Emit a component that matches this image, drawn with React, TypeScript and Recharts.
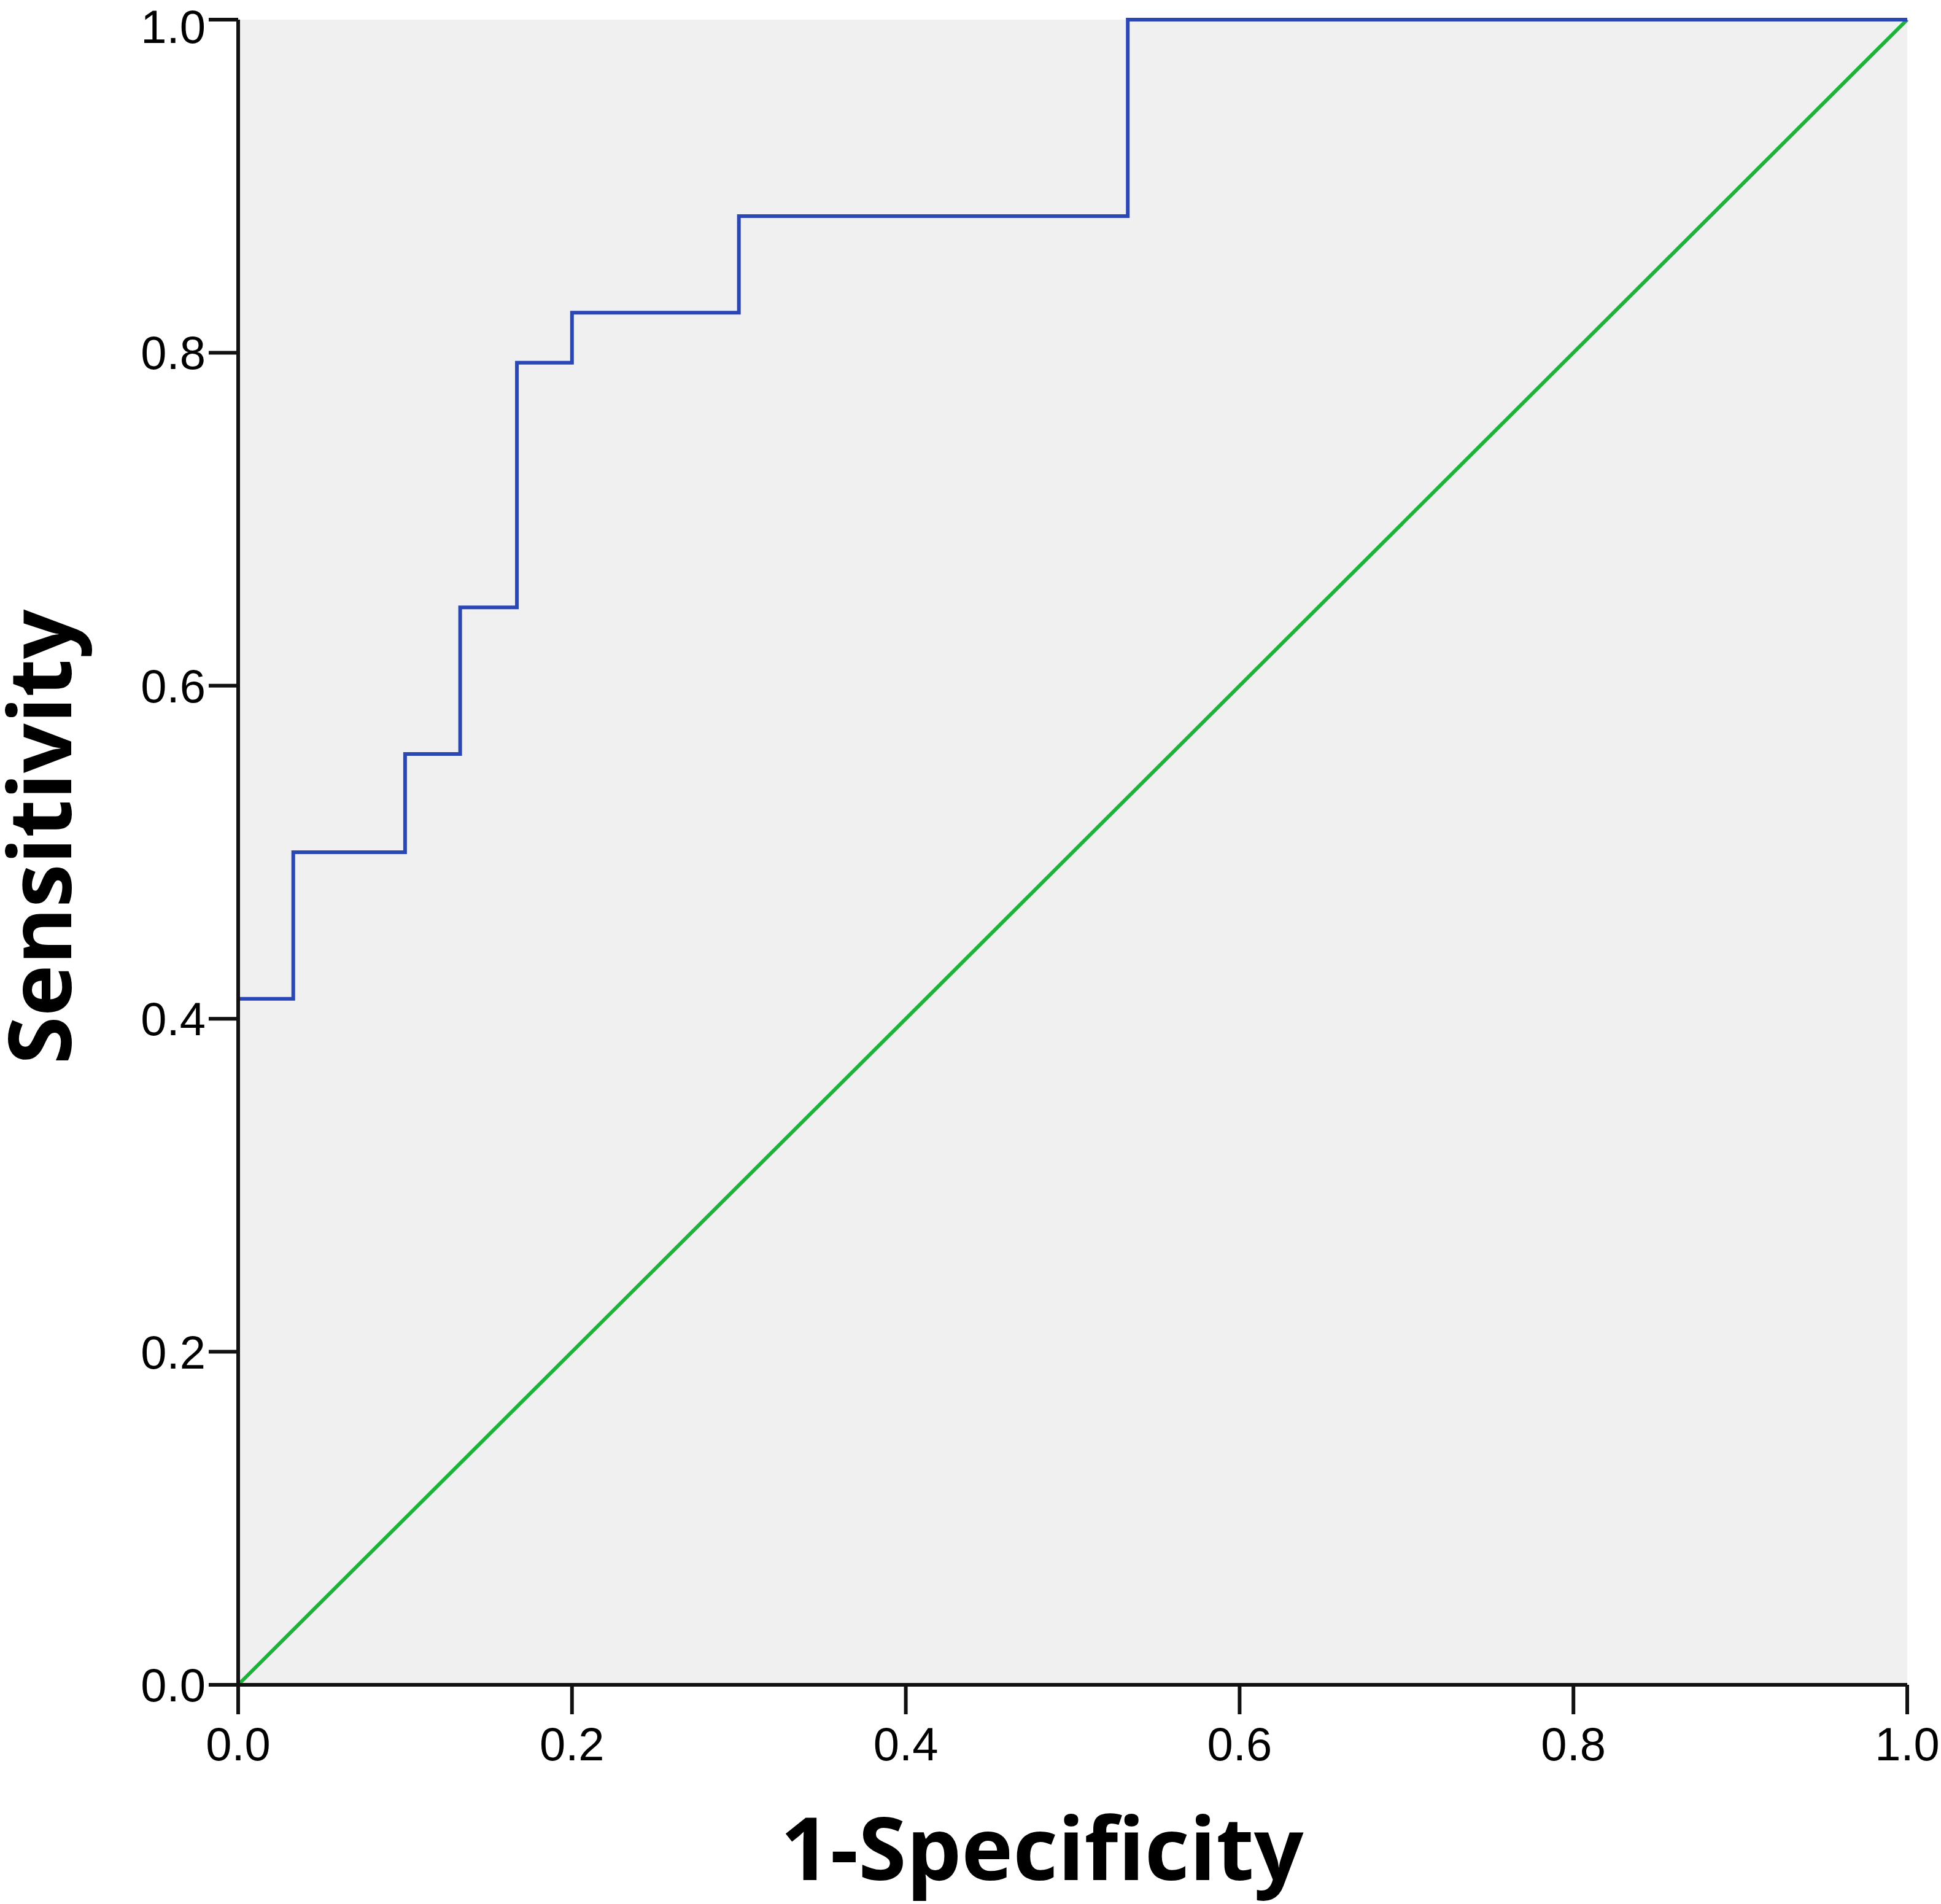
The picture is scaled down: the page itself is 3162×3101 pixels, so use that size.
import React from 'react';
import {
  LineChart,
  Line,
  XAxis,
  YAxis,
  CartesianGrid,
} from 'recharts';

// ROC curve points (30 negatives, 34 positives)
const falsePositiveRate = [0, 0, 0.033, 0.1, 0.133, 0.167, 0.2, 0.3, 0.533, 1];
const sensitivity = [0, 0.412, 0.5, 0.559, 0.647, 0.794, 0.824, 0.882, 1, 1];

// reference diagonal
const diagonalX = [0, 1];
const diagonalY = [0, 1];

const axisTicks = [0, 0.2, 0.4, 0.6, 0.8, 1];

const rocData = falsePositiveRate.map((x, i) => ({ x, y: sensitivity[i] }));
const diagData = diagonalX.map((x, i) => ({ x, y: diagonalY[i] }));

const tickFont = { fontFamily: '"Liberation Sans", Arial, sans-serif', fontSize: 76, fill: '#000' };
const titleFont = { fontFamily: '"Open Sans", sans-serif', fontSize: 142, fontWeight: 700, fill: '#000' };

const axisStroke = { stroke: '#111', strokeWidth: 6 };

const App = () => {
  return (
    <div style={{ position: 'absolute', left: 0, top: 0 }}>
      <LineChart
        width={3162}
        height={3101}
        margin={{ top: 32, right: 55, left: 0, bottom: 0 }}
      >
        <CartesianGrid horizontal={false} vertical={false} fill="#f0f0f0" fillOpacity={1} />
        <XAxis
          type="number"
          dataKey="x"
          domain={[0, 1]}
          ticks={axisTicks}
          tickFormatter={(v: number) => v.toFixed(1)}
          height={357}
          tickSize={48}
          tickMargin={21}
          tick={tickFont}
          axisLine={axisStroke}
          tickLine={axisStroke}
          label={{
            content: (p: any) => (
              <text
                x={p.viewBox.x + p.viewBox.width / 2 - 50}
                y={p.viewBox.y + 318}
                textAnchor="middle"
                style={titleFont}
              >
                1-Specificity
              </text>
            ),
          }}
        />
        <XAxis
          xAxisId="top"
          orientation="top"
          type="number"
          dataKey="x"
          domain={[0, 1]}
          height={0}
          tick={false}
          tickLine={false}
          axisLine={axisStroke}
        />
        <YAxis
          type="number"
          domain={[0, 1]}
          ticks={axisTicks}
          tickFormatter={(v: number) => v.toFixed(1)}
          width={388}
          tickSize={48}
          tickMargin={5}
          tick={tickFont}
          axisLine={axisStroke}
          tickLine={axisStroke}
          label={{
            content: (p: any) => {
              const cx = p.viewBox.x + 116;
              const cy = p.viewBox.y + p.viewBox.height / 2 - 25;
              return (
                <text
                  x={cx}
                  y={cy}
                  textAnchor="middle"
                  transform={`rotate(-90, ${cx}, ${cy})`}
                  style={titleFont}
                >
                  Sensitivity
                </text>
              );
            },
          }}
        />
        <YAxis
          yAxisId="right"
          orientation="right"
          type="number"
          domain={[0, 1]}
          width={0}
          tick={false}
          tickLine={false}
          axisLine={axisStroke}
        />
        <Line
          data={diagData}
          dataKey="y"
          type="linear"
          stroke="#1db33a"
          strokeWidth={6}
          dot={false}
          isAnimationActive={false}
        />
        <Line
          data={rocData}
          dataKey="y"
          type="stepAfter"
          stroke="#2b47b5"
          strokeWidth={6}
          dot={false}
          isAnimationActive={false}
        />
      </LineChart>
    </div>
  );
};

export default App;
